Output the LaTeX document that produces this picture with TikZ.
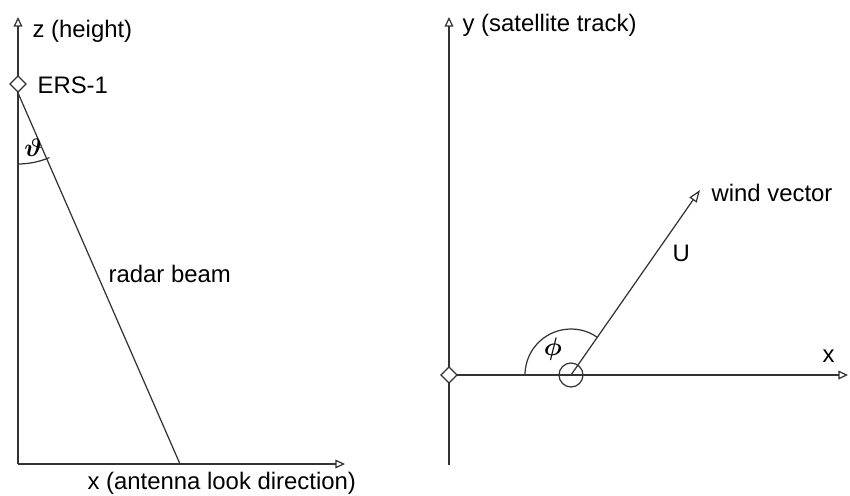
\documentclass[tikz,border=0pt]{standalone}
\usepackage{fontspec}
\setmainfont{Liberation Sans}
\usepackage{bm}
\usetikzlibrary{arrows.meta,shapes.geometric}
\tikzset{
  axis/.style={line width=0.7pt,-{Triangle[open,length=5.5pt,width=5pt]}},
  sat/.style={diamond,draw,fill=white,line width=0.7pt,inner sep=0pt,minimum size=9.5pt},
  lbl/.style={anchor=west,inner sep=0pt,font=\fontsize{13.6}{16}\selectfont},
  ang/.style={font=\Large}
}
\begin{document}
\begin{tikzpicture}[x=0.02cm,y=0.02cm,line width=0.7pt,draw=black!80]
  \useasboundingbox (0,0) rectangle (850,495);
  % left: side view
  \coordinate (o1) at (18,31);
  \coordinate (ztop) at (18,478);
  \coordinate (xend) at (345,31);
  \coordinate (foot) at (180,31);
  \draw[axis] (o1) -- (ztop);
  \draw[axis] (o1) -- (xend);
  \node[sat] (ers) at (18,411) {};
  \draw (ers.south) -- (foot);
  \draw ([shift={(270:1.6cm)}]ers.center) arc[start angle=270,end angle=293.1,radius=1.6cm];
  \node[ang] (theta) at (33,347) {$\bm{\vartheta}$};
  \node[lbl] (zlab) at (32,464) {z (height)};
  \node[lbl] (erslab) at (37,410) {ERS-1};
  \node[lbl] (beamlab) at (108,221) {radar beam};
  \node[lbl] (xlab) at (87,12) {x (antenna look direction)};
  % right: top view
  \coordinate (ybot) at (449,30);
  \coordinate (ytop) at (449,478);
  \coordinate (x2end) at (848,120);
  \coordinate (tip) at (700,305);
  \draw[axis] (ybot) -- (ytop);
  \draw[axis] (449,120) -- (x2end);
  \node[sat] (orig) at (449,120) {};
  \node[circle,draw,inner sep=0pt,minimum size=0.48cm] (ctr) at (571,120) {};
  \draw[-{Triangle[open,length=7pt,width=5pt]}] (ctr.center) -- (tip);
  \draw ([shift={(55.1:0.92cm)}]ctr.center) arc[start angle=55.1,end angle=180,radius=0.92cm];
  \node[ang] (phi) at (553,146) {$\bm{\phi}$};
  \node[lbl] (ulab) at (672,242) {U};
  \node[lbl] (x2lab) at (822,139) {x};
  \node[lbl] (ylab) at (462,470) {y (satellite track)};
  \node[lbl] (windlab) at (711,302) {wind vector};
\end{tikzpicture}
\end{document}
